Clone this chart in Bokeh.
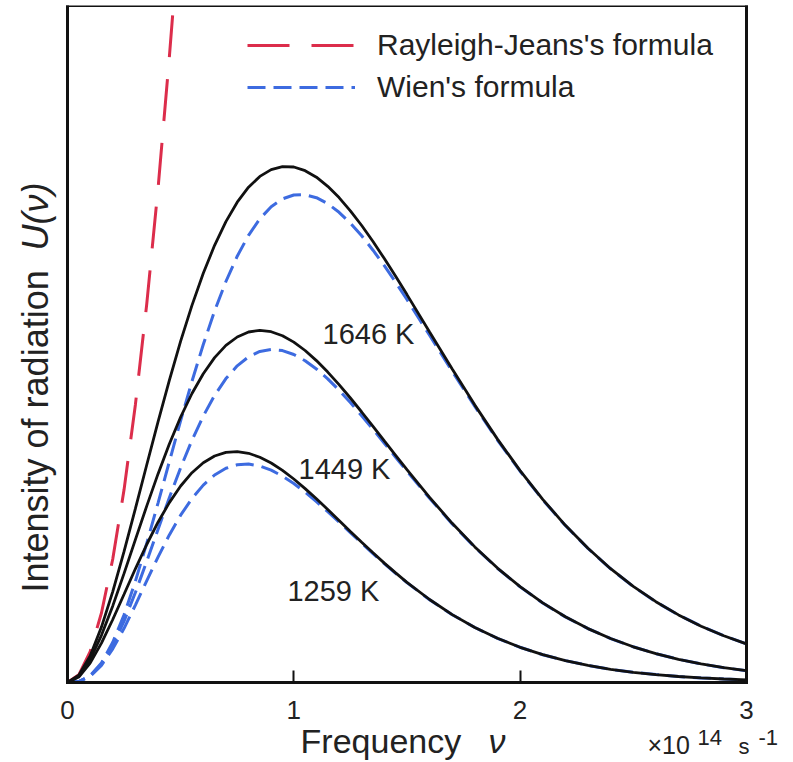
from bokeh.plotting import figure
from bokeh.models import Range1d, Label, Legend, LegendItem, FixedTicker, LinearAxis
from bokeh.embed import file_html
from bokeh.resources import INLINE

# ---------------- data ----------------
# frequency in units of 1e14 s^-1
freq = [0.0, 0.05, 0.1, 0.15, 0.2, 0.25, 0.3, 0.35, 0.4, 0.45, 0.5,
        0.55, 0.6, 0.65, 0.7, 0.75, 0.8, 0.85, 0.9, 0.95, 1.0,
        1.05, 1.1, 1.15, 1.2, 1.25, 1.3, 1.35, 1.4, 1.45, 1.5,
        1.6, 1.7, 1.8, 1.9, 2.0, 2.1, 2.2, 2.3, 2.4, 2.5, 2.6, 2.7, 2.8, 2.9, 3.0]

planck_1646 = [0, 0.072, 0.266, 0.554, 0.909, 1.311, 1.738, 2.175, 2.606, 3.022, 3.413,
               3.771, 4.092, 4.372, 4.609, 4.803, 4.953, 5.061, 5.129, 5.159, 5.155,
               5.118, 5.053, 4.962, 4.849, 4.717, 4.570, 4.410, 4.239, 4.062, 3.879,
               3.505, 3.134, 2.774, 2.434, 2.119, 1.831, 1.572, 1.342, 1.138, 0.961,
               0.808, 0.676, 0.563, 0.467, 0.386]
wien_1646 = [0, 0.010, 0.067, 0.196, 0.402, 0.678, 1.013, 1.391, 1.794, 2.208, 2.618,
             3.012, 3.380, 3.715, 4.010, 4.263, 4.472, 4.637, 4.757, 4.836, 4.875,
             4.878, 4.848, 4.788, 4.702, 4.594, 4.467, 4.323, 4.168, 4.002, 3.830,
             3.472, 3.112, 2.760, 2.425, 2.113, 1.827, 1.570, 1.340, 1.137, 0.960,
             0.807, 0.675, 0.563, 0.467, 0.386]

planck_1449 = [0, 0.062, 0.229, 0.472, 0.766, 1.091, 1.429, 1.764, 2.086, 2.385, 2.655,
               2.890, 3.088, 3.249, 3.371, 3.455, 3.505, 3.522, 3.508, 3.468, 3.404,
               3.320, 3.219, 3.104, 2.979, 2.845, 2.705, 2.561, 2.416, 2.272, 2.128,
               1.851, 1.592, 1.356, 1.144, 0.958, 0.796, 0.657, 0.539, 0.440, 0.357,
               0.288, 0.232, 0.186, 0.148, 0.118]
wien_1449 = [0, 0.010, 0.065, 0.185, 0.371, 0.614, 0.900, 1.211, 1.531, 1.848, 2.148,
             2.422, 2.665, 2.871, 3.039, 3.167, 3.257, 3.311, 3.330, 3.319, 3.280,
             3.218, 3.135, 3.036, 2.923, 2.799, 2.668, 2.532, 2.393, 2.253, 2.114,
             1.842, 1.586, 1.352, 1.142, 0.956, 0.795, 0.656, 0.539, 0.439, 0.357,
             0.288, 0.232, 0.186, 0.148, 0.118]

planck_1259 = [0, 0.054, 0.194, 0.394, 0.630, 0.883, 1.137, 1.380, 1.603, 1.799, 1.965,
               2.098, 2.198, 2.265, 2.301, 2.309, 2.292, 2.253, 2.195, 2.121, 2.035,
               1.939, 1.837, 1.730, 1.621, 1.511, 1.403, 1.297, 1.194, 1.096, 1.002,
               0.830, 0.679, 0.550, 0.442, 0.352, 0.278, 0.219, 0.171, 0.132, 0.102,
               0.079, 0.060, 0.046, 0.035, 0.026]
wien_1259 = [0, 0.009, 0.062, 0.171, 0.336, 0.542, 0.774, 1.016, 1.254, 1.476, 1.673,
             1.840, 1.974, 2.075, 2.142, 2.177, 2.184, 2.165, 2.124, 2.064, 1.990,
             1.904, 1.809, 1.708, 1.604, 1.499, 1.393, 1.289, 1.189, 1.091, 0.999,
             0.828, 0.678, 0.550, 0.442, 0.352, 0.278, 0.219, 0.171, 0.132, 0.102,
             0.079, 0.060, 0.046, 0.035, 0.026]

# Rayleigh-Jeans curve (1646 K); it leaves the box at its top edge
rj_freq = [0.0, 0.05, 0.1, 0.15, 0.2, 0.25, 0.3, 0.35, 0.4, 0.45, 0.468]
rj_1646 = [0, 0.077, 0.309, 0.695, 1.235, 1.929, 2.778, 3.781, 4.939, 6.251, 6.77]

x_ticks = [0, 1, 2, 3]
x_box = (0, 3)          # extent of the drawn box, x
y_box = (0, 6.77)       # extent of the drawn box, y
temp_labels = ["1646 K", "1449 K", "1259 K"]
legend_labels = ["Rayleigh-Jeans's formula", "Wien's formula"]

# ---------------- styling ----------------
FONT = "Liberation Sans"
TXT = "#222222"
BLACK = "#111111"
BLUE = "#3d6be0"
RED = "#dc2d4b"

W, H = 790, 760
PX_X = 226.3   # pixels per x unit
PX_Y = 100.0   # pixels per y unit
LEFT_PAD = 67  # page x of x=0
TOP_PAD = 5    # page y of box top

x0 = -LEFT_PAD / PX_X
x1 = x0 + W / PX_X
y1 = y_box[1]
y0 = y1 - (H - TOP_PAD) / PX_Y

p = figure(width=W, height=H, output_backend="svg", toolbar_location=None,
           x_range=Range1d(x0, x1), y_range=Range1d(y0, y1),
           min_border_left=0, min_border_right=0, min_border_top=TOP_PAD, min_border_bottom=0)
p.xgrid.visible = False
p.ygrid.visible = False
p.outline_line_color = None
p.background_fill_color = "white"
p.border_fill_color = "white"


def box_axis(ax, loc, bounds):
    ax.fixed_location = loc
    ax.bounds = bounds
    ax.axis_line_width = 3
    ax.axis_line_color = BLACK
    ax.axis_line_cap = "square"


# bottom axis with ticks
xa = p.xaxis[0]
box_axis(xa, 0, x_box)
xa.ticker = FixedTicker(ticks=x_ticks, minor_ticks=[])
xa.major_tick_in = 12
xa.major_tick_out = 0
xa.major_tick_line_width = 2
xa.major_tick_line_color = BLACK
xa.major_label_text_font = FONT
xa.major_label_text_font_size = "26px"
xa.major_label_text_color = TXT
xa.major_label_standoff = 18

# left axis: plain line
ya = p.yaxis[0]
box_axis(ya, 0, y_box)
ya.ticker = FixedTicker(ticks=[], minor_ticks=[])
ya.major_tick_line_color = None
ya.minor_tick_line_color = None

# right and top edges of the box
ra = LinearAxis(ticker=FixedTicker(ticks=[], minor_ticks=[]), major_tick_line_color=None,
                minor_tick_line_color=None)
box_axis(ra, 3, y_box)
p.add_layout(ra, "right")
ta = LinearAxis(ticker=FixedTicker(ticks=[], minor_ticks=[]), major_tick_line_color=None,
                minor_tick_line_color=None)
box_axis(ta, y_box[1], x_box)
p.add_layout(ta, "above")

# ---------------- curves ----------------
r_rj = p.line(rj_freq, rj_1646, line_color=RED, line_width=3, line_dash="42 22")
w_lines = []
for w in (wien_1646, wien_1449, wien_1259):
    w_lines.append(p.line(freq, w, line_color=BLUE, line_width=3, line_dash="18 8"))
for pl in (planck_1646, planck_1449, planck_1259):
    p.line(freq, pl, line_color=BLACK, line_width=2.8)

legend = Legend(items=[LegendItem(label=legend_labels[0], renderers=[r_rj]),
                       LegendItem(label=legend_labels[1], renderers=[w_lines[0]])],
                location=(247, 656), glyph_width=108, glyph_height=30, label_height=30,
                label_standoff=22, spacing=8, padding=0, margin=0,
                border_line_color=None, background_fill_alpha=0,
                label_text_font=FONT, label_text_font_size="30px", label_text_color=TXT)
p.add_layout(legend)


def label(x, y, text, size, style="normal", angle=0.0):
    p.add_layout(Label(x=x, y=y, text=text, angle=angle, text_font=FONT,
                       text_font_style=style, text_font_size=size, text_color=TXT,
                       text_baseline="middle", text_align="left"))


# temperature labels
for txt, lx, ly in zip(temp_labels, [1.127, 1.021, 0.972], [3.49, 2.14, 0.92]):
    label(lx, ly, txt, "29px")

# axis titles
label(-0.1414, 0.90, "Intensity of radiation", "36px", angle=1.5708)
label(-0.1414, 4.32, "U(ν)", "36px", style="italic", angle=1.5708)
label(1.03, -0.58, "Frequency", "34px")
label(1.86, -0.58, "ν", "34px", style="italic")
label(2.563, -0.62, "×10", "25px")
label(2.784, -0.545, "14", "22px")
label(2.965, -0.64, "s", "22px")
label(3.053, -0.545, "-1", "22px")

open("out.html", "w").write(file_html(p, INLINE))
